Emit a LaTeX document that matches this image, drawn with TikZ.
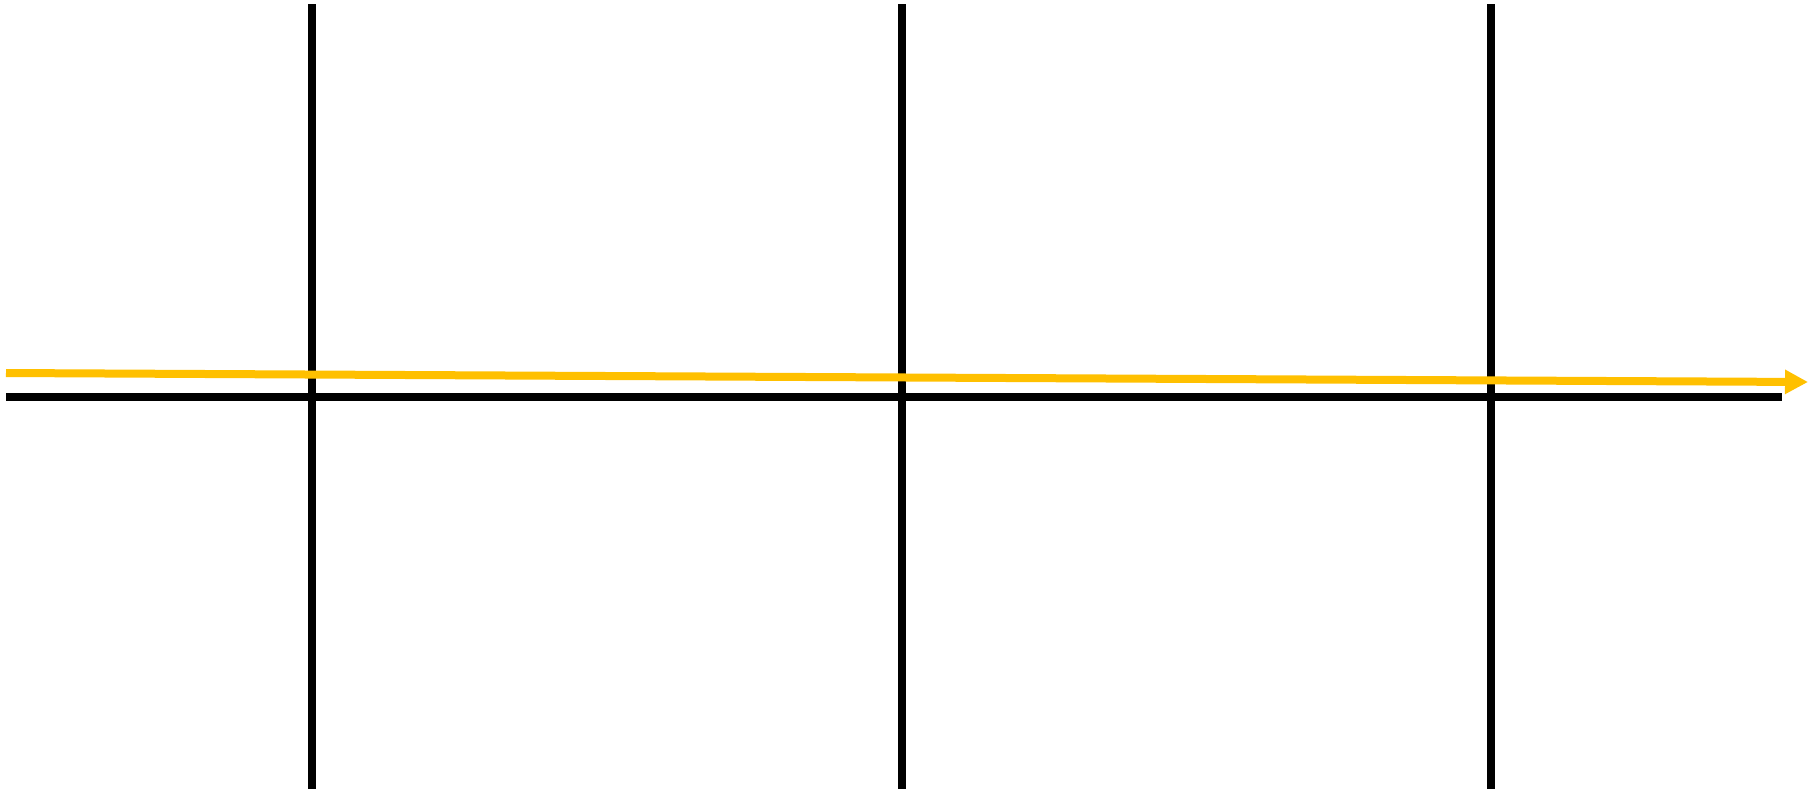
\documentclass[tikz,border=0pt]{standalone}
\usetikzlibrary{arrows.meta}
\definecolor{arrowyellow}{HTML}{FFC000}
\tikzset{
  gridline/.style={draw=black, line width=4pt},
  flowarrow/.style={draw=arrowyellow, line width=4pt, -{Triangle[length=11.5pt,width=11.5pt]}}
}
\begin{document}
\begin{tikzpicture}[x=0.5pt,y=-0.5pt]
\useasboundingbox (0,0) rectangle (1820,793);
\coordinate (v1t) at (312,4);   \coordinate (v1b) at (312,789);
\coordinate (v2t) at (902,4);   \coordinate (v2b) at (902,789);
\coordinate (v3t) at (1491,4);  \coordinate (v3b) at (1491,789);
\coordinate (hl) at (6,397);    \coordinate (hr) at (1782,397);
\coordinate (ys) at (6,373);    \coordinate (ye) at (1808,382);
\draw[gridline] (v1t) -- (v1b);
\draw[gridline] (v2t) -- (v2b);
\draw[gridline] (v3t) -- (v3b);
\draw[gridline] (hl) -- (hr);
\draw[flowarrow] (ys) -- (ye);
\end{tikzpicture}
\end{document}
